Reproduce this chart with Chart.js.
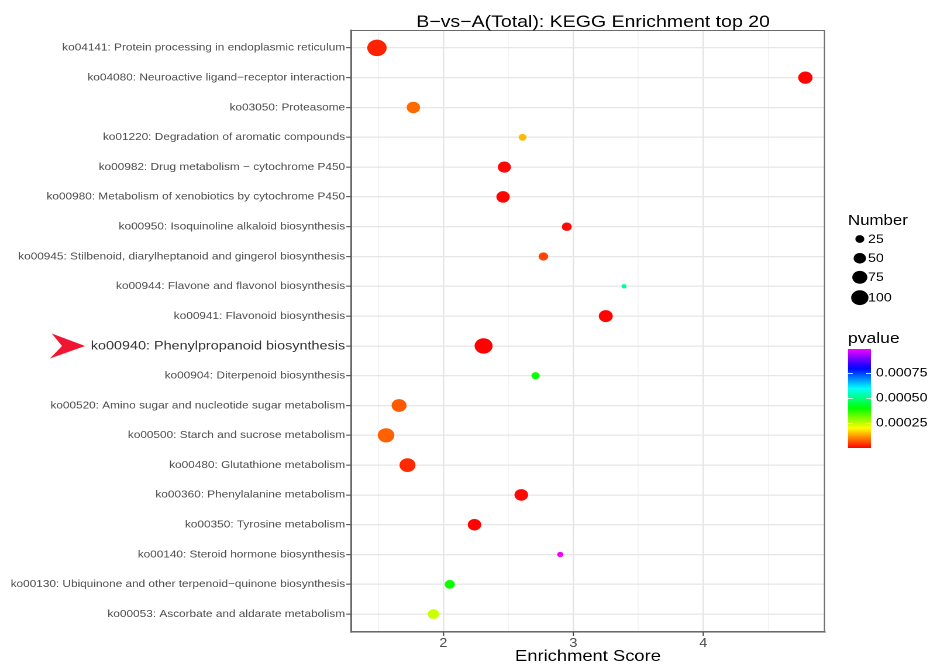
<!DOCTYPE html>
<html><head><meta charset="utf-8">
<script src="https://cdn.jsdelivr.net/npm/chart.js@4.4.1/dist/chart.umd.min.js"></script>
<style>
html,body{margin:0;padding:0;background:#fff;overflow:hidden}
#wrap{width:930px;height:664px;overflow:hidden;position:relative;background:#fff}
#c{display:block;width:795px;height:664px;transform:scaleX(1.1698);transform-origin:0 0}
</style></head><body>
<div id="wrap"><canvas id="c" width="795" height="664"></canvas></div>
<script>
// ---- data (top row first) ----
const categories = [
  "ko04141: Protein processing in endoplasmic reticulum",
  "ko04080: Neuroactive ligand\u2212receptor interaction",
  "ko03050: Proteasome",
  "ko01220: Degradation of aromatic compounds",
  "ko00982: Drug metabolism \u2212 cytochrome P450",
  "ko00980: Metabolism of xenobiotics by cytochrome P450",
  "ko00950: Isoquinoline alkaloid biosynthesis",
  "ko00945: Stilbenoid, diarylheptanoid and gingerol biosynthesis",
  "ko00944: Flavone and flavonol biosynthesis",
  "ko00941: Flavonoid biosynthesis",
  "ko00940: Phenylpropanoid biosynthesis",
  "ko00904: Diterpenoid biosynthesis",
  "ko00520: Amino sugar and nucleotide sugar metabolism",
  "ko00500: Starch and sucrose metabolism",
  "ko00480: Glutathione metabolism",
  "ko00360: Phenylalanine metabolism",
  "ko00350: Tyrosine metabolism",
  "ko00140: Steroid hormone biosynthesis",
  "ko00130: Ubiquinone and other terpenoid\u2212quinone biosynthesis",
  "ko00053: Ascorbate and aldarate metabolism"
];
const enrichmentScore = [1.49, 4.785, 1.77, 2.61, 2.47, 2.46, 2.95, 2.77, 3.39, 3.25,
                         2.31, 2.71, 1.66, 1.56, 1.725, 2.60, 2.24, 2.90, 2.05, 1.925];
const geneNumber = [126, 68, 59, 19, 55, 59, 31, 29, 6, 64,
                    108, 21, 74, 92, 85, 61, 59, 11, 34, 43];
const pvalue = [0.000027, 0.000002, 0.000083, 0.000147, 0.000005, 0.000003, 0.000008, 0.000053, 0.00052, 0.000004,
                0.000001, 0.00039, 0.00007, 0.000075, 0.000033, 0.000006, 0.000002, 0.00099, 0.00039, 0.00024];
const xTickValues = [2, 3, 4];
const sizeLegendValues = [25, 50, 75, 100];
const pvalueLegendTicks = [0.00025, 0.00050, 0.00075];
const pvalueLegendLabels = ["0.00025", "0.00050", "0.00075"];
const highlighted = "ko00940: Phenylpropanoid biosynthesis";
const chartTitle = "B\u2212vs\u2212A(Total): KEGG Enrichment top 20";
const xTitle = "Enrichment Score";

// ---- styling helpers ----
const FONT = "'Liberation Sans', Arial, Helvetica, sans-serif";
const P_SPAN = 0.001;
function pColor(p){ const h = Math.max(0, Math.min(300, 300 * p / P_SPAN)); return 'hsl(' + h.toFixed(1) + ',100%,50%)'; }
function radiusOf(n){ return Math.sqrt(0.533 * n + 1.46); }
const xMinor = xTickValues.map(v => v - 0.5).concat([xTickValues[xTickValues.length - 1] + 0.5]);
const isMajor = v => xTickValues.includes(v);

const points = categories.map((c, i) => ({ x: enrichmentScore[i], y: i + 1 }));

const decor = {
  id: 'decor',
  afterDraw(chart) {
    const ctx = chart.ctx, a = chart.chartArea;
    ctx.save();
    // panel border
    ctx.strokeStyle = '#6a6a6a'; ctx.lineWidth = 1;
    ctx.strokeRect(a.left + 0.5, a.top + 0.5, a.right - a.left - 1, a.bottom - a.top - 1);
    // title
    ctx.fillStyle = '#000'; ctx.textAlign = 'center'; ctx.textBaseline = 'alphabetic';
    ctx.font = '16.7px ' + FONT;
    ctx.fillText(chartTitle, 507, 27);
    // x title
    ctx.font = '15.7px ' + FONT;
    ctx.fillText(xTitle, (a.left + a.right) / 2, 661);
    // arrow
    ctx.fillStyle = '#f01530';
    ctx.beginPath();
    ctx.moveTo(72.7, 346); ctx.lineTo(44.2, 333.5); ctx.lineTo(53, 346); ctx.lineTo(42.7, 358.5); ctx.closePath();
    ctx.fill();
    // size legend
    ctx.fillStyle = '#000'; ctx.textAlign = 'left';
    ctx.font = '14.4px ' + FONT;
    ctx.fillText('Number', 724.9, 225);
    const ly = [239, 258.3, 277.3, 297.7];
    ctx.font = '12.2px ' + FONT; ctx.textBaseline = 'middle';
    sizeLegendValues.forEach((v, i) => {
      ctx.beginPath(); ctx.arc(735, ly[i], radiusOf(v), 0, Math.PI * 2); ctx.fill();
      ctx.fillText(String(v), 742, ly[i] + 0.5);
    });
    // pvalue legend
    ctx.textBaseline = 'alphabetic';
    ctx.font = '15px ' + FONT;
    ctx.fillText('pvalue', 724.9, 343);
    const pMin = Math.min(...pvalue), pMax = Math.max(...pvalue);
    const bx = 724.9, bw = 19.6, bt = 349, bb = 448;
    const g = ctx.createLinearGradient(0, bb, 0, bt);
    for (let k = 0; k <= 20; k++) g.addColorStop(k / 20, pColor(pMin + (pMax - pMin) * k / 20));
    ctx.fillStyle = g; ctx.fillRect(bx, bt, bw, bb - bt);
    const yOf = p => bb - (p - pMin) / (pMax - pMin) * (bb - bt);
    ctx.strokeStyle = 'rgba(255,255,255,0.85)'; ctx.lineWidth = 1;
    ctx.fillStyle = '#000'; ctx.font = '12.2px ' + FONT; ctx.textBaseline = 'middle';
    pvalueLegendTicks.forEach((p, i) => {
      const y = Math.round(yOf(p)) + 0.5;
      ctx.beginPath(); ctx.moveTo(bx, y); ctx.lineTo(bx + 4, y); ctx.moveTo(bx + bw - 4, y); ctx.lineTo(bx + bw, y); ctx.stroke();
      ctx.fillText(pvalueLegendLabels[i], 748.8, yOf(p));
    });
    ctx.restore();
  }
};

new Chart(document.getElementById('c'), {
  type: 'scatter',
  data: { datasets: [{
    data: points,
    pointRadius: c => radiusOf(geneNumber[c.dataIndex]),
    pointBackgroundColor: c => pColor(pvalue[c.dataIndex]),
    pointBorderWidth: 0,
    pointBorderColor: 'rgba(0,0,0,0)',
    pointHoverRadius: c => radiusOf(geneNumber[c.dataIndex])
  }]},
  options: {
    responsive: false, maintainAspectRatio: false, animation: false, devicePixelRatio: 2,
    events: [],
    layout: { padding: { left: 0, top: 30, right: 89.75, bottom: 0 } },
    plugins: { legend: { display: false }, tooltip: { enabled: false }, title: { display: false } },
    scales: {
      x: {
        type: 'linear', min: 1.29, max: 4.936,
        afterBuildTicks: s => { s.ticks = xMinor.concat(xTickValues).sort((p, q) => p - q).map(v => ({ value: v })); },
        afterFit: s => { s.height = 32; },
        ticks: { autoSkip: false, maxRotation: 0, padding: 0, color: '#4d4d4d',
                 font: { family: FONT, size: 12.5 },
                 callback: v => isMajor(v) ? String(v) : '' },
        grid: { color: c => isMajor(c.tick && c.tick.value) ? '#e4e4e4' : '#f1f1f1',
                lineWidth: c => isMajor(c.tick && c.tick.value) ? 1.3 : 0.8,
                drawTicks: true, tickLength: 4, tickWidth: 1,
                tickColor: c => isMajor(c.tick && c.tick.value) ? '#444' : 'rgba(0,0,0,0)' },
        border: { display: true, color: '#555', width: 1 }
      },
      y: {
        type: 'linear', reverse: true, min: 0.4, max: categories.length + 0.6,
        afterBuildTicks: s => { s.ticks = categories.map((_, i) => ({ value: i + 1 })); },
        afterFit: s => { s.width = 300; },
        ticks: { autoSkip: false, padding: 1,
                 color: c => categories[c.index] === highlighted ? '#333' : '#4d4d4d',
                 font: c => ({ family: FONT, size: categories[c.index] === highlighted ? 12.3 : 10.1 }),
                 callback: (v, i) => categories[i] },
        grid: { color: '#e6e6e6', lineWidth: 1.3, drawTicks: true, tickLength: 4, tickWidth: 1, tickColor: '#444' },
        border: { display: true, color: '#555', width: 1 }
      }
    }
  },
  plugins: [decor]
});
</script>
</body></html>
